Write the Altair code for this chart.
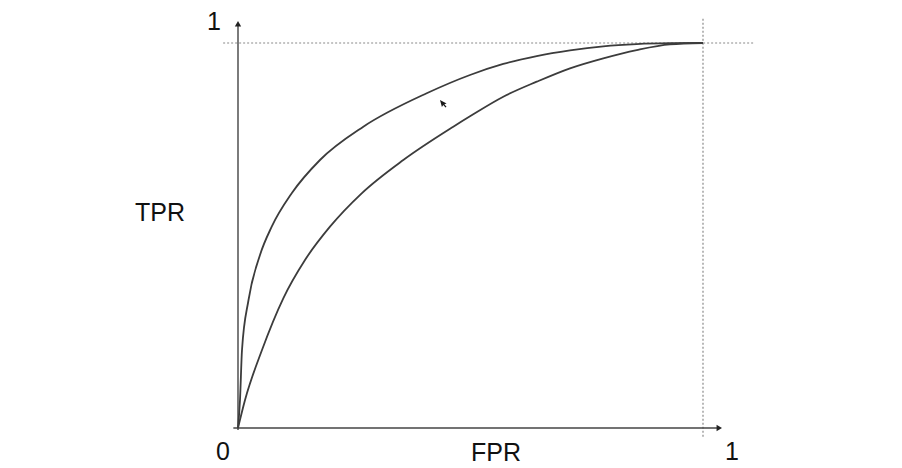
import altair as alt
import pandas as pd

# ROC curves (FPR, TPR)
upper_fpr = [0.0, 0.0043, 0.0086, 0.0226, 0.0473, 0.0725, 0.1155, 0.1763, 0.2695, 0.4058, 0.4989, 0.5705, 0.6424, 0.7140, 0.7856, 0.8574, 0.9290, 1.0]
upper_tpr = [0.0, 0.0727, 0.2026, 0.3325, 0.4494, 0.5229, 0.6096, 0.6961, 0.7826, 0.8694, 0.9169, 0.9455, 0.9662, 0.9810, 0.9915, 0.9972, 0.9995, 1.0]
lower_fpr = [0.0, 0.0151, 0.0516, 0.0974, 0.1441, 0.1978, 0.2660, 0.3555, 0.4630, 0.4989, 0.5705, 0.6424, 0.7140, 0.7856, 0.8574, 0.9290, 1.0]
lower_tpr = [0.0, 0.0727, 0.2026, 0.3369, 0.4364, 0.5229, 0.6096, 0.6961, 0.7826, 0.8096, 0.8605, 0.8995, 0.9343, 0.9603, 0.9818, 0.9966, 1.0]

x_label = "FPR"
y_label = "TPR"
tick_zero = "0"
tick_one = "1"

W, H = 880, 458
# pixel mapping: origin at page (238,428), (1,1) at page (703,43); chart starts at (8,8)
PX_PER_X = 465.0
PX_PER_Y = 385.0
x_dom = [(8 - 238) / PX_PER_X, (8 + W - 238) / PX_PER_X]
y_dom = [(428 - (8 + H)) / PX_PER_Y, (428 - 8) / PX_PER_Y]

xs = alt.Scale(domain=x_dom, nice=False, zero=False)
ys = alt.Scale(domain=y_dom, nice=False, zero=False)

curves = pd.DataFrame(
    [{"curve": "upper", "order": i, "fpr": f, "tpr": t} for i, (f, t) in enumerate(zip(upper_fpr, upper_tpr))]
    + [{"curve": "lower", "order": i, "fpr": f, "tpr": t} for i, (f, t) in enumerate(zip(lower_fpr, lower_tpr))]
)

def X(f):
    return alt.X(f, type="quantitative", scale=xs, axis=None)

def Y(f):
    return alt.Y(f, type="quantitative", scale=ys, axis=None)

lines = alt.Chart(curves).mark_line(color="#3c3c3c", strokeWidth=1.8, interpolate="monotone", clip=False).encode(
    x=X("fpr"), y=Y("tpr"), detail="curve:N", order="order:Q"
)

# axes
axes_df = pd.DataFrame([
    {"x": -0.01, "y": 0.0, "x2": 1.03, "y2": 0.0},
    {"x": 0.0, "y": -0.005, "x2": 0.0, "y2": 1.045},
])
axes = alt.Chart(axes_df).mark_rule(color="#444444", strokeWidth=1.4).encode(
    x=X("x"), y=Y("y"), x2="x2:Q", y2="y2:Q"
)

arrows_df = pd.DataFrame([
    {"x": 1.035, "y": 0.0, "shape": "triangle-right"},
    {"x": 0.0, "y": 1.05, "shape": "triangle-up"},
])
arrows = alt.Chart(arrows_df).mark_point(filled=True, color="#222222", opacity=1, size=40).encode(
    x=X("x"), y=Y("y"), shape=alt.Shape("shape:N", scale=None, legend=None)
)

# dotted guide lines
dots_df = pd.DataFrame([
    {"x": -0.032, "y": 1.0, "x2": 1.112, "y2": 1.0},
    {"x": 1.0, "y": -0.023, "x2": 1.0, "y2": 1.067},
])
dots = alt.Chart(dots_df).mark_rule(color="#8a8a8a", strokeWidth=1.2, strokeDash=[2, 2]).encode(
    x=X("x"), y=Y("y"), x2="x2:Q", y2="y2:Q"
)

# mouse pointer seen in the screenshot
cursor_df = pd.DataFrame([{"x": 0.4344, "y": 0.852}])
cursor = alt.Chart(cursor_df).mark_point(
    shape="M0,0 L0,1.1 L0.28,0.84 L0.5,1.3 L0.68,1.22 L0.46,0.78 L0.82,0.76 Z",
    filled=True, color="#1a1a1a", opacity=1, size=180, angle=345
).encode(x=X("x"), y=Y("y"))

labels_df = pd.DataFrame([
    {"x": -0.1677, "y": 0.558, "t": y_label},
    {"x": -0.0516, "y": 1.055, "t": tick_one},
    {"x": -0.0323, "y": -0.062, "t": tick_zero},
    {"x": 1.0624, "y": -0.062, "t": tick_one},
    {"x": 0.5548, "y": -0.064, "t": x_label},
])
labels = alt.Chart(labels_df).mark_text(
    font="Liberation Sans", fontSize=25, color="#111111", align="center", baseline="middle"
).encode(x=X("x"), y=Y("y"), text="t:N")

chart = alt.layer(dots, axes, arrows, lines, cursor, labels).properties(
    width=W, height=H, padding=0, autosize=alt.AutoSizeParams(type="none")
).configure_view(stroke=None)

chart.save("out.html", embed_options={"renderer": "svg", "actions": False})
